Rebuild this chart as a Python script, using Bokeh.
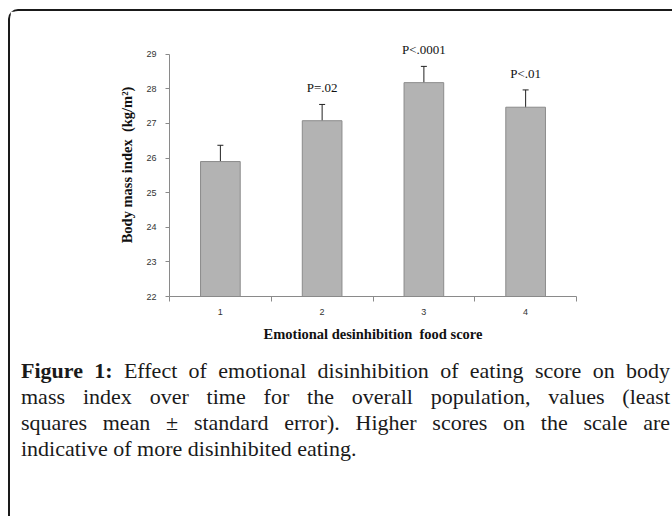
from bokeh.plotting import figure
from bokeh.models import ColumnDataSource, FixedTicker, Whisker, TeeHead, Div, Range1d, LabelSet
from bokeh.layouts import column
from bokeh.embed import file_html
from bokeh.resources import INLINE

# ---- data ----
scores = [1, 2, 3, 4]
bmi_mean = [25.90, 27.08, 28.18, 27.47]
bmi_upper = [26.37, 27.55, 28.65, 27.97]
bmi_lower = [25.42, 26.60, 27.70, 26.98]
p_labels = ["", "P=.02", "P<.0001", "P<.01"]
y_ticks = [22, 23, 24, 25, 26, 27, 28, 29]
x_title = "Emotional desinhibition\u00a0 food score"
y_title = "Body mass index\u00a0 (kg/m\u00b2)"

src = ColumnDataSource(dict(x=scores, top=bmi_mean, upper=bmi_upper,
                            lower=bmi_lower, plabel=p_labels))

AXIS_GREY = "#8a8a8a"

p = figure(width=662, height=345, output_backend="svg", toolbar_location=None,
           x_range=Range1d(0.5, 4.5), y_range=Range1d(22, 29.6),
           min_border_left=159, min_border_right=96,
           min_border_top=22, min_border_bottom=60)
p.outline_line_color = None
p.xgrid.grid_line_color = None
p.ygrid.grid_line_color = None
p.background_fill_color = "white"
p.border_fill_color = "white"

p.vbar(x="x", top="top", bottom=22, width=0.39, source=src,
       fill_color="#b3b3b3", line_color="#8c8c8c", line_width=1)

head_u = TeeHead(size=6, line_color="#222222", line_width=1)
head_l = TeeHead(size=6, line_color="#222222", line_width=1)
wh = Whisker(base="x", upper="upper", lower="lower", source=src,
             line_color="#222222", line_width=1,
             upper_head=head_u, lower_head=head_l)
p.add_layout(wh)

labels = LabelSet(x="x", y="upper", text="plabel", source=src,
                  text_align="center", text_baseline="alphabetic", y_offset=12,
                  text_font="Liberation Serif", text_font_size="13px",
                  text_color="#111111")
p.add_layout(labels)

# x axis
p.xaxis.ticker = FixedTicker(ticks=scores, minor_ticks=[0.5, 1.5, 2.5, 3.5, 4.5])
p.xaxis.major_tick_out = 0
p.xaxis.major_tick_in = 0
p.xaxis.minor_tick_out = 5
p.xaxis.minor_tick_in = 0
p.xaxis.minor_tick_line_color = AXIS_GREY
p.xaxis.axis_line_color = AXIS_GREY
p.xaxis.major_label_standoff = 7
p.xaxis.major_label_text_font = "Liberation Sans"
p.xaxis.major_label_text_font_size = "9px"
p.xaxis.major_label_text_color = "#333333"
p.xaxis.axis_label = x_title
p.xaxis.axis_label_text_font = "Liberation Serif"
p.xaxis.axis_label_text_font_style = "bold"
p.xaxis.axis_label_text_font_size = "14.5px"
p.xaxis.axis_label_text_color = "#111111"
p.xaxis.axis_label_standoff = 8

# y axis
p.yaxis.ticker = FixedTicker(ticks=y_ticks, minor_ticks=[])
p.yaxis.bounds = (22, 29)
p.yaxis.major_tick_out = 4
p.yaxis.major_tick_in = 0
p.yaxis.major_tick_line_color = AXIS_GREY
p.yaxis.minor_tick_line_color = None
p.yaxis.axis_line_color = AXIS_GREY
p.yaxis.major_label_standoff = 9
p.yaxis.major_label_text_font = "Liberation Sans"
p.yaxis.major_label_text_font_size = "9px"
p.yaxis.major_label_text_color = "#333333"
p.yaxis.axis_label = y_title
p.yaxis.axis_label_text_font = "Liberation Serif"
p.yaxis.axis_label_text_font_style = "bold"
p.yaxis.axis_label_text_font_size = "14.5px"
p.yaxis.axis_label_text_color = "#111111"
p.yaxis.axis_label_standoff = 8

line_style = ("text-align: justify; text-align-last: justify; white-space: nowrap;")
caption_html = (
    '<div style="font-family: \'Liberation Serif\'; font-size: 22px; line-height: 26px; color: #1a1a1a; width: 649px;">'
    f'<div style="{line_style}"><b>Figure 1:</b> Effect of emotional disinhibition of eating score on body</div>'
    f'<div style="{line_style}">mass index over time for the overall population, values (least</div>'
    f'<div style="{line_style}">squares mean \u00b1 standard error). Higher scores on the scale are</div>'
    '<div style="text-align: left; white-space: nowrap;">indicative of more disinhibited eating.</div>'
    '</div>'
)
caption = Div(text=caption_html, width=650, height=150,
              styles={"margin-left": "11px", "margin-top": "2px"})

layout = column(p, caption, width=664, height=507,
                styles={"border-left": "2px solid #1a1a1a",
                        "border-top": "2px solid #1a1a1a",
                        "border-top-left-radius": "10px",
                        "margin-top": "9px",
                        "margin-left": "8px",
                        "background": "white"})

open("out.html", "w").write(file_html(layout, INLINE))
